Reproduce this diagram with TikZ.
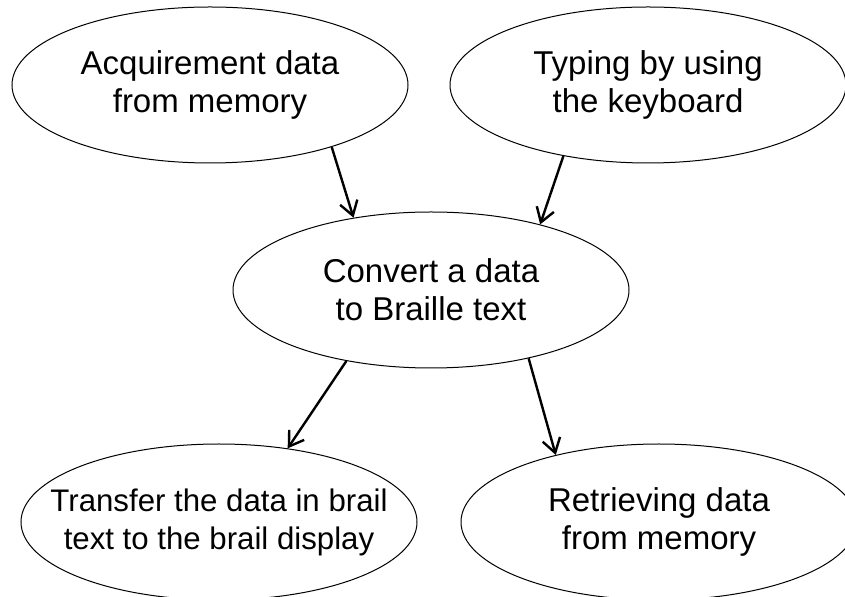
\documentclass[tikz,border=0pt]{standalone}
\usepackage{fontspec}
\setmainfont{Liberation Sans}
\usetikzlibrary{shapes.geometric,arrows.meta}

\begin{document}
\begin{tikzpicture}[x=0.5pt,y=-0.5pt,
		task/.style={ellipse,draw,line width=0.5pt,minimum width=198pt,minimum height=78pt,
			inner xsep=-40pt,inner ysep=-10pt,align=center,font=\fontsize{16.5}{19}\selectfont},
		flow/.style={line width=1.2pt,-{Straight Barb[length=7pt,width=9pt]}}]
				\useasboundingbox (0,0) rectangle (845,597);
				
				% Sources
				\node[task] (acquire) at (210,85) {Acquirement data\\from memory};
				\node[task] (typing) at (648,85) {Typing by using\\the keyboard};
				
				% Conversion
				\node[task] (convert) at (431,290) {Convert a data\\to Braille text};
				
				% Outputs
				\node[task,font=\fontsize{15.6}{19}\selectfont] (transfer) at (219,522) {Transfer the data in brail\\text to the brail display};
				\node[task] (retrieve) at (659,522) {Retrieving data\\from memory};
				
				% Arrows
				\draw[flow] (acquire.-27) -- (convert.137);
				\draw[flow] (typing.-140) -- (convert.31);
				\draw[flow] (convert.-140) -- (transfer.47);
				\draw[flow] (convert.-35) -- (retrieve.147);
			\end{tikzpicture}
\end{document}
